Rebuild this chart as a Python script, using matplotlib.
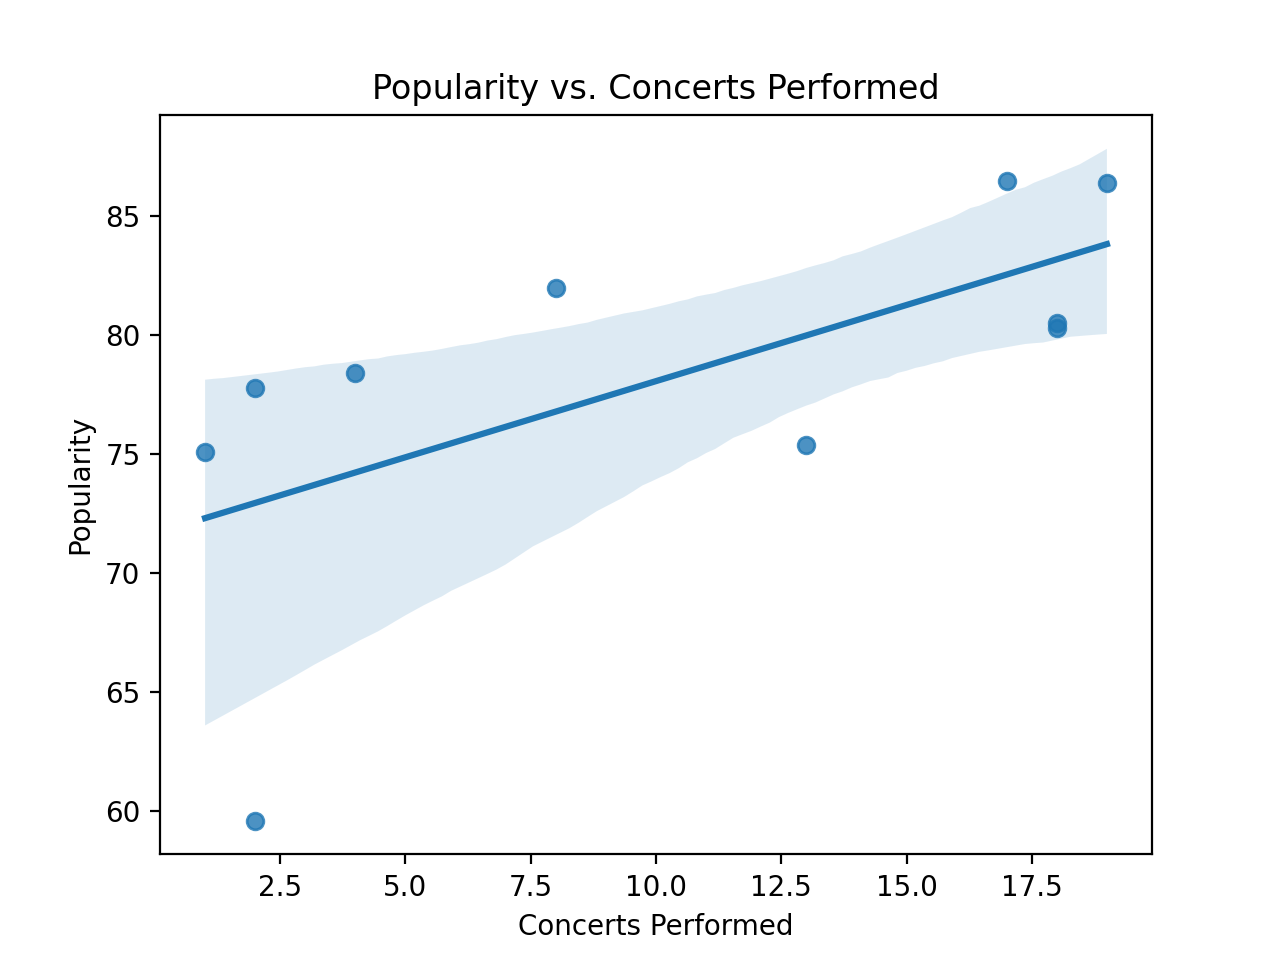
import matplotlib
matplotlib.use('Agg')
import matplotlib.pyplot as plt
import seaborn as sns
import pandas as pd

# Data
concerts = [1, 2, 2, 4, 8, 13, 17, 18, 18, 19]
popularity = [75.1, 77.8, 59.6, 78.4, 82.0, 75.4, 86.5, 80.5, 80.3, 86.4]

df = pd.DataFrame({'Concerts Performed': concerts, 'Popularity': popularity})

fig, ax = plt.subplots(figsize=(6.4, 4.8), dpi=200)
sns.regplot(data=df, x='Concerts Performed', y='Popularity', ax=ax, seed=1)
ax.set_title('Popularity vs. Concerts Performed')
plt.savefig('out.png')
